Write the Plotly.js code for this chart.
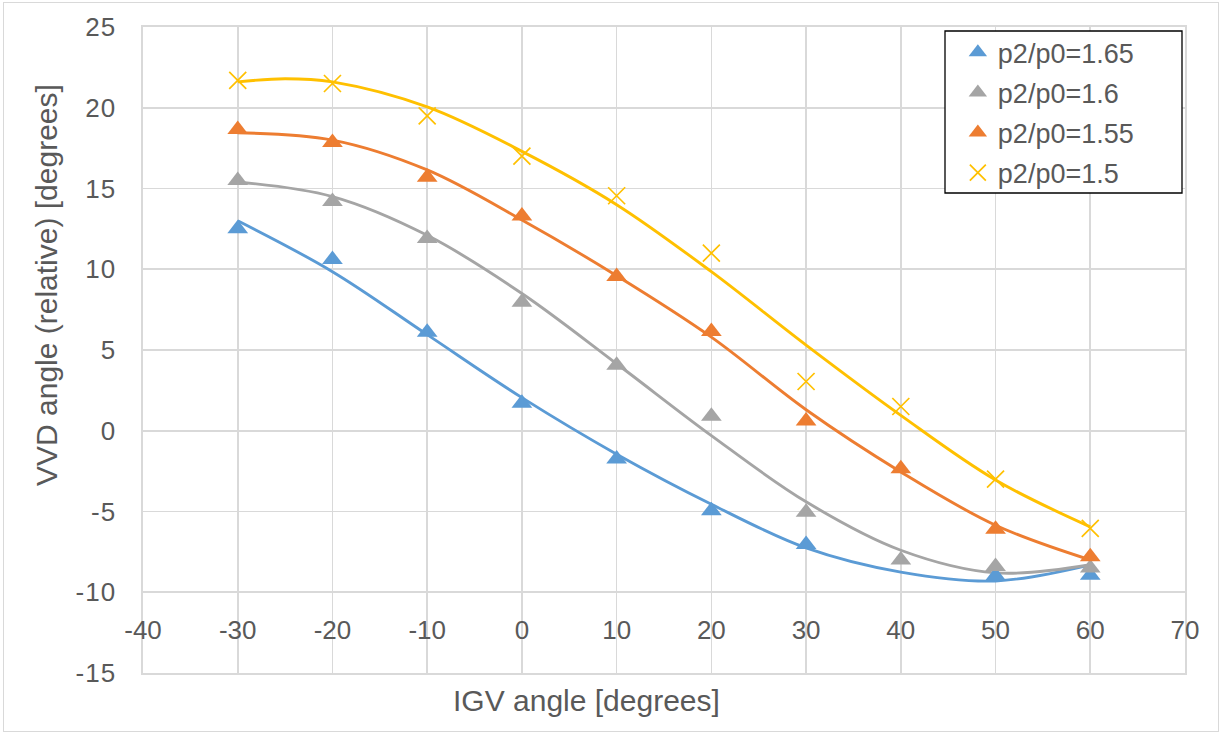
<!DOCTYPE html>
<html>
<head>
<meta charset="utf-8">
<script src="https://cdn.plot.ly/plotly-3.0.1.min.js"></script>
<style>
  html, body { margin: 0; padding: 0; background: #ffffff; }
  #wrap { position: relative; width: 1225px; height: 733px; }
  #chart { position: absolute; left: 0; top: 0; width: 1225px; height: 733px; }
  #frame { position: absolute; left: 3px; top: 2px; width: 1214px; height: 728px;
           border: 1px solid #d9d9d9; pointer-events: none; }
  .xtick text, .ytick text { letter-spacing: 1px; }
</style>
</head>
<body>
<div id="wrap">
  <div id="chart"></div>
  <div id="frame"></div>
</div>
<script>
// ---- data ----
const seriesNames = ['p2/p0=1.65', 'p2/p0=1.6', 'p2/p0=1.55', 'p2/p0=1.5'];

// measured points
const igv165 = [-30, -20, -10, 0, 10, 20, 30, 50, 60];
const vvd165 = [12.5, 10.6, 6.1, 1.7, -1.75, -4.95, -7.05, -9.0, -8.95];

const igv160 = [-30, -20, -10, 0, 10, 20, 30, 40, 50, 60];
const vvd160 = [15.5, 14.2, 11.9, 7.95, 4.05, 0.9, -5.05, -8.0, -8.4, -8.5];

const igv155 = [-30, -20, -10, 0, 10, 20, 30, 40, 50, 60];
const vvd155 = [18.65, 17.85, 15.7, 13.3, 9.55, 6.15, 0.6, -2.35, -6.1, -7.8];

const igv150 = [-30, -20, -10, 0, 10, 20, 30, 40, 50, 60];
const vvd150 = [21.7, 21.5, 19.5, 17.0, 14.55, 11.0, 3.05, 1.5, -3.0, -6.05];

// trendlines
const trendX = [-30, -20, -10, 0, 10, 20, 30, 40, 50, 60];
const trend165 = [13.0, 9.85, 5.95, 2.05, -1.45, -4.55, -7.25, -8.75, -9.3, -8.3];
const trend160 = [15.4, 14.5, 12.1, 8.5, 4.15, -0.3, -4.4, -7.4, -8.8, -8.3];
const trend155 = [18.45, 18.0, 16.15, 13.05, 9.6, 5.8, 1.3, -2.55, -5.85, -8.0];
const trendX150 = [-30, -25, -20, -10, 0, 10, 20, 30, 40, 50, 60];
const trend150 = [21.6, 21.8, 21.6, 20.05, 17.3, 14.0, 9.85, 5.3, 0.95, -3.05, -5.95];

// axis ticks
const xTicks = [-40, -30, -20, -10, 0, 10, 20, 30, 40, 50, 60, 70];
const yTicks = [-15, -10, -5, 0, 5, 10, 15, 20, 25];

const colors = ['#5B9BD5', '#A5A5A5', '#ED7D31', '#FFC000'];
const FONT = '"Liberation Sans", Arial, sans-serif';
const TXT = '#595959';
const GRID = '#d9d9d9';

function trendTrace(x, y, color, grp) {
  return { x: x, y: y, type: 'scatter', mode: 'lines',
           line: { color: color, width: 2.9, shape: 'spline', smoothing: 1 },
           showlegend: false, hoverinfo: 'skip', legendgroup: grp };
}
function markTrace(x, y, name, color, symbol, grp) {
  const isX = symbol.indexOf('x') === 0;
  return { x: x, y: y, type: 'scatter', mode: 'markers', name: name, legendgroup: grp,
           marker: isX ? { symbol: symbol, size: 17, color: color, line: { color: color, width: 1.7 } }
                       : { symbol: symbol, size: 18, color: color, line: { width: 0 } } };
}

const data = [
  trendTrace(trendX, trend165, colors[0], 'g1'),
  trendTrace(trendX, trend160, colors[1], 'g2'),
  trendTrace(trendX, trend155, colors[2], 'g3'),
  trendTrace(trendX150, trend150, colors[3], 'g4'),
  markTrace(igv165, vvd165, seriesNames[0], colors[0], 'triangle-up', 'g1'),
  markTrace(igv160, vvd160, seriesNames[1], colors[1], 'triangle-up', 'g2'),
  markTrace(igv155, vvd155, seriesNames[2], colors[2], 'triangle-up', 'g3'),
  markTrace(igv150, vvd150, seriesNames[3], colors[3], 'x-thin-open', 'g4'),
  { x: [], y: [], xaxis: 'x2', yaxis: 'y', type: 'scatter', mode: 'markers',
    showlegend: false, hoverinfo: 'skip' }
];

const layout = {
  width: 1225, height: 733,
  margin: { l: 143, r: 40, t: 27, b: 60, pad: 0 },
  paper_bgcolor: '#ffffff', plot_bgcolor: '#ffffff',
  font: { family: FONT, color: TXT },
  showlegend: true,
  xaxis: {
    range: [-40, 70], tickvals: xTicks, showticklabels: false,
    showgrid: true, gridcolor: GRID, gridwidth: 1.6,
    zeroline: false, showline: true, linecolor: GRID, linewidth: 1.6, mirror: true,
    ticks: '', fixedrange: true
  },
  xaxis2: {
    overlaying: 'x', anchor: 'free', position: 0.125,
    range: [-40, 70], tickvals: xTicks, ticktext: xTicks.map(String),
    showgrid: false, zeroline: false, showline: false, ticks: '',
    tickfont: { family: FONT, size: 26, color: TXT }, ticklabelstandoff: 20, fixedrange: true
  },
  yaxis: {
    range: [-15, 25], tickvals: yTicks, ticktext: yTicks.map(String),
    showgrid: true, gridcolor: GRID, gridwidth: 1.6,
    zeroline: false, showline: true, linecolor: GRID, linewidth: 1.6, mirror: true,
    ticks: '', tickfont: { family: FONT, size: 26, color: TXT }, ticklabelstandoff: 20,
    fixedrange: true
  },
  legend: {
    x: 0.782, xanchor: 'left', y: 0.998, yanchor: 'top',
    bgcolor: 'rgba(0,0,0,0)', borderwidth: 0,
    font: { family: FONT, size: 27, color: TXT },
    traceorder: 'grouped', tracegroupgap: 2, itemsizing: 'trace'
  },
  shapes: [
    { type: 'rect', xref: 'paper', yref: 'paper', layer: 'above',
      x0: (945 - 143) / 1042, x1: (1182 - 143) / 1042,
      y0: (673 - 193) / 646, y1: (673 - 31) / 646,
      line: { color: '#000000', width: 1.3 }, fillcolor: '#ffffff' }
  ],
  annotations: [
    { text: 'IGV angle [degrees]', xref: 'paper', yref: 'paper',
      x: (586 - 143) / 1042, y: (673 - 700) / 646, xanchor: 'center', yanchor: 'middle',
      showarrow: false, font: { family: FONT, size: 30, color: TXT } },
    { text: 'VVD angle (relative) [degrees]', xref: 'paper', yref: 'paper', textangle: -90,
      x: (47 - 143) / 1042, y: (673 - 285) / 646, xanchor: 'center', yanchor: 'middle',
      showarrow: false, font: { family: FONT, size: 30, color: TXT } }
  ]
};

Plotly.newPlot('chart', data, layout, { displayModeBar: false, staticPlot: true });
</script>
</body>
</html>
